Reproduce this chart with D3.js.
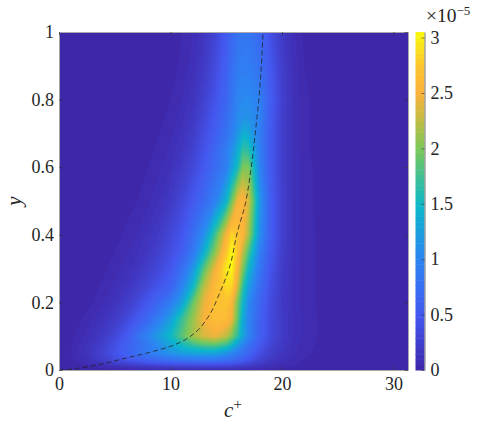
<!DOCTYPE html>
<html><head><meta charset="utf-8">
<script src="https://cdn.jsdelivr.net/npm/d3@7"></script>
<style>html,body{margin:0;background:#fff}svg{display:block}text{font-family:"Liberation Serif",serif;fill:#262626}</style>
</head><body><svg id="c" width="479" height="425"></svg>
<script>
const cPlus=[0,1,2,3,4,5,6,7,8,9,10,11,12,13,14,15,15.5,16,16.5,17,18,19,20,21,22,24,26,31.3];
const yVals=[0,.01,.02,.03,.05,.075,.1,.15,.2,.25,.3,.35,.4,.5,.6,.65,.7,.75,.8,.9,1];
const density=[
[.00,.00,.01,.01,.02,.03,.04,.05,.06,.06,.07,.07,.07,.07,.07,.07,.07,.06,.06,.05,.04,.03,.02,.02,.01,.00,.00,.00],
[.00,.01,.02,.04,.07,.10,.13,.17,.20,.22,.25,.26,.27,.27,.27,.25,.24,.22,.20,.18,.13,.09,.06,.04,.02,.01,.00,.00],
[.00,.02,.05,.10,.16,.24,.30,.36,.42,.46,.50,.53,.55,.55,.54,.50,.47,.43,.38,.32,.22,.14,.09,.05,.03,.01,.00,.00],
[.00,.03,.08,.15,.25,.36,.46,.56,.64,.72,.78,.83,.86,.86,.84,.78,.73,.65,.56,.46,.30,.19,.12,.07,.04,.01,.00,.00],
[.00,.04,.10,.18,.30,.44,.60,.76,.90,1.03,1.15,1.24,1.30,1.32,1.30,1.15,1.03,.90,.77,.65,.40,.25,.16,.09,.05,.02,.01,.00],
[.00,.03,.09,.16,.26,.40,.56,.72,.90,1.10,1.32,1.54,1.72,1.85,1.88,1.72,1.52,1.25,1.02,.80,.50,.30,.19,.11,.06,.02,.01,.00],
[.00,.02,.07,.13,.21,.33,.50,.78,1.00,1.25,1.50,1.85,2.15,2.35,2.45,2.25,2.00,1.68,1.30,1.00,.60,.35,.21,.12,.07,.02,.01,.00],
[.00,.01,.04,.08,.14,.22,.34,.50,.70,.95,1.25,1.70,2.10,2.50,2.65,2.62,2.45,1.90,1.35,1.00,.60,.35,.21,.12,.07,.02,.01,.00],
[.00,.00,.02,.04,.08,.14,.22,.34,.50,.68,.90,1.25,1.90,2.42,2.70,2.72,2.55,2.00,1.50,1.05,.65,.37,.20,.11,.06,.02,.00,.00],
[.00,.00,.01,.02,.05,.09,.15,.23,.33,.46,.60,.95,1.45,2.20,2.60,2.88,2.86,2.35,1.70,1.25,.75,.40,.21,.11,.06,.02,.00,.00],
[.00,.00,.00,.01,.03,.06,.10,.16,.24,.34,.48,.75,1.15,1.85,2.45,2.95,3.05,2.55,2.00,1.50,.85,.45,.22,.11,.06,.02,.00,.00],
[.00,.00,.00,.00,.02,.04,.07,.11,.18,.27,.38,.55,.85,1.40,2.05,2.72,3.05,2.75,2.25,1.80,.95,.50,.24,.12,.06,.02,.00,.00],
[.00,.00,.00,.00,.01,.02,.05,.08,.14,.21,.32,.46,.75,1.10,1.75,2.50,2.85,2.75,2.55,2.15,1.10,.55,.26,.12,.06,.02,.00,.00],
[.00,.00,.00,.00,.00,.01,.02,.04,.07,.12,.20,.32,.50,.70,.95,1.45,1.95,2.45,2.60,2.35,1.20,.55,.26,.12,.06,.01,.00,.00],
[.00,.00,.00,.00,.00,.00,.01,.02,.04,.07,.12,.21,.33,.50,.72,.95,1.25,1.55,2.00,2.00,1.00,.50,.25,.12,.06,.01,.00,.00],
[.00,.00,.00,.00,.00,.00,.00,.01,.03,.05,.09,.16,.27,.44,.65,.90,1.10,1.35,1.70,1.65,.95,.50,.25,.12,.05,.01,.00,.00],
[.00,.00,.00,.00,.00,.00,.00,.01,.02,.04,.07,.13,.22,.38,.56,.80,.95,1.15,1.40,1.35,.92,.50,.25,.12,.05,.01,.00,.00],
[.00,.00,.00,.00,.00,.00,.00,.00,.01,.03,.05,.10,.18,.32,.50,.72,.88,1.05,1.10,1.12,.98,.52,.25,.12,.05,.01,.00,.00],
[.00,.00,.00,.00,.00,.00,.00,.00,.01,.02,.04,.08,.15,.27,.44,.66,.82,1.00,1.05,1.05,.95,.55,.26,.12,.05,.01,.00,.00],
[.00,.00,.00,.00,.00,.00,.00,.00,.00,.01,.02,.05,.10,.20,.35,.58,.75,.88,.92,.92,.78,.48,.24,.11,.04,.01,.00,.00],
[.00,.00,.00,.00,.00,.00,.00,.00,.00,.01,.02,.04,.08,.16,.30,.52,.68,.80,.84,.84,.68,.40,.20,.09,.03,.01,.00,.00]
];
const meanC=[0,1,2,3,4,5,6,7,8,9,10,11,12.3,13.3,14.4,15.3,16,16.7,17.2,17.7,17.95,18.3];
const meanY=[0,.002,.007,.012,.019,.027,.035,.043,.051,.06,.07,.084,.113,.153,.227,.305,.408,.49,.59,.73,.81,1];
const xTicks=[0,10,20,30], yTicks=[0,.2,.4,.6,.8,1], cTicks=[0,.5,1,1.5,2,2.5,3];
const xMax=31.3, cMax=3.05;

const parula=d3.scaleLinear()
 .domain([0,.16,.33,.48,.55,.65,.75,.82,.9,1])
 .range(["#3e26a8","#4458f0","#2c85f2","#0cb6cc","#30bea2","#78c85c","#c8bc40","#fbb23c","#fcc52f","#f9f90f"])
 .interpolate(d3.interpolateRgb);
const color=v=>parula(Math.min(1,Math.max(0,v/cMax)));

const L=59,R=408,T=32,B=370;
const x=d3.scaleLinear().domain([0,xMax]).range([L,R]);
const y=d3.scaleLinear().domain([0,1]).range([B,T]);
const svg=d3.select("#c");

const nx=cPlus.length, ny=yVals.length;
const ix=d3.scaleLinear().domain(cPlus.map((d,i)=>i+.5)).range(cPlus).clamp(true);
const iy=d3.scaleLinear().domain(yVals.map((d,i)=>i+.5)).range(yVals).clamp(true);
const path=d3.geoPath(d3.geoTransform({point(a,b){this.stream.point(x(ix(a)),y(iy(b)));}}));
const step=.04;
const levels=d3.range(step,cMax,step);
const conts=d3.contours().size([nx,ny]).smooth(true).thresholds(levels)(density.flat());
svg.append("rect").attr("x",L).attr("y",T).attr("width",R-L).attr("height",B-T).attr("fill",color(0.01));
svg.append("g").selectAll("path").data(conts).join("path")
 .attr("d",path).attr("fill",d=>color(d.value+step/2));

svg.append("path").attr("fill","none").attr("stroke","#222").attr("stroke-width",.8).attr("stroke-dasharray","5 3")
 .attr("d",d3.line().x(d=>x(d[0])).y(d=>y(d[1])).curve(d3.curveMonotoneY)(d3.zip(meanC,meanY)));

function axis(gen,tr){const s=svg.append("g").attr("transform",tr).call(gen);
 s.attr("font-family",null).attr("font-size",null);
 s.selectAll(".domain").attr("stroke","#a8a8a8").attr("stroke-width",1);
 s.selectAll(".tick line").attr("stroke","#333").attr("stroke-width",.6);
 s.selectAll("text").style("font-size","18px").style("font-family","'Liberation Serif'");return s;}
const fmt=d=>String(d);
axis(d3.axisBottom(x).tickValues(xTicks).tickFormat(fmt).tickSize(-3.5).tickSizeOuter(0).tickPadding(7),`translate(0,${B})`);
axis(d3.axisLeft(y).tickValues(yTicks).tickFormat(fmt).tickSize(-3.5).tickSizeOuter(0).tickPadding(5),`translate(${L},0)`);
axis(d3.axisTop(x).tickValues(xTicks).tickFormat("").tickSize(-3.5).tickSizeOuter(0),`translate(0,${T})`);
axis(d3.axisRight(y).tickValues(yTicks).tickFormat("").tickSize(-3.5).tickSizeOuter(0),`translate(${R},0)`);

svg.append("text").attr("x",233).attr("y",417).attr("text-anchor","middle").style("font-size","21px").style("font-style","italic")
 .text("c").append("tspan").attr("dy",-8).style("font-size","15px").style("font-style","normal").text("+");
svg.append("text").attr("transform","translate(21,201) rotate(-90)").attr("text-anchor","middle").style("font-size","21px").style("font-style","italic").text("y");

const cbx=d3.scaleLinear().domain([0,cMax]).range([B,T]);
const CL=415.5,CR=424.5;
const cbLevels=d3.range(0,cMax,cMax/64);
svg.append("g").selectAll("rect").data(cbLevels).join("rect")
 .attr("x",CL).attr("width",CR-CL).attr("y",d=>cbx(d+cMax/64)).attr("height",d=>cbx(d)-cbx(d+cMax/64)+.5)
 .attr("fill",d=>color(d+cMax/128));
const cb=axis(d3.axisRight(cbx).tickValues(cTicks).tickFormat(fmt).tickSize(-3).tickSizeOuter(0).tickPadding(6),`translate(${CR},0)`);
cb.select(".domain").attr("stroke","#777");
const ex=svg.append("text").attr("x",426).attr("y",22).style("font-size","19.5px");
ex.append("tspan").text("×10");
ex.append("tspan").attr("dy",-7).style("font-size","13px").text("−5");
</script></body></html>
